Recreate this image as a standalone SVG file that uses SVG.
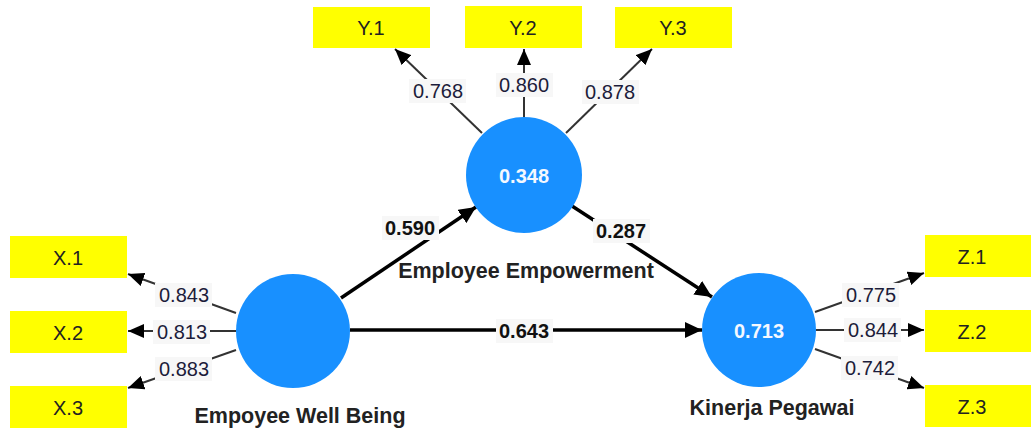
<svg xmlns="http://www.w3.org/2000/svg" width="1032" height="431" viewBox="0 0 1032 431">
<style>
.ind{fill:#ffff00}
.indt{font-family:"Liberation Sans",Arial,sans-serif;font-size:20px;fill:#222;text-anchor:middle;dominant-baseline:central}
.lv{fill:#1890ff}
.lvt{font-family:"Liberation Sans",Arial,sans-serif;font-size:20px;font-weight:bold;fill:#f4f8ff;text-anchor:middle;dominant-baseline:central}
.name{font-family:"Liberation Sans",Arial,sans-serif;font-size:21.5px;font-weight:bold;fill:#222;text-anchor:middle}
.ld{stroke:#333;stroke-width:2;fill:none;marker-end:url(#ah)}
.pth{stroke:#000;stroke-width:3.5;fill:none;marker-end:url(#ah2)}
.lbg{fill:#f7f7f7}
.lt{font-family:"Liberation Sans",Arial,sans-serif;font-size:20px;fill:#1c1c3a;text-anchor:middle;dominant-baseline:central}
.pt{font-family:"Liberation Sans",Arial,sans-serif;font-size:20px;font-weight:bold;fill:#111;text-anchor:middle;dominant-baseline:central}
</style>
<defs>
<marker id="ah" markerUnits="userSpaceOnUse" markerWidth="18" markerHeight="14" refX="16" refY="7" orient="auto"><path d="M0,0 L16,7 L0,14 z" fill="#000"/></marker>
<marker id="ah2" markerUnits="userSpaceOnUse" markerWidth="18" markerHeight="16" refX="17" refY="8" orient="auto"><path d="M0,0 L17,8 L0,16 z" fill="#000"/></marker>
</defs>
<rect width="1032" height="431" fill="#fff"/>
<g id="connectors">
<line class="ld" x1="482" y1="133" x2="395" y2="49"/>
<line class="ld" x1="524" y1="117" x2="524" y2="49"/>
<line class="ld" x1="566" y1="133" x2="652" y2="49"/>
<line class="ld" x1="236" y1="313" x2="128" y2="274"/>
<line class="ld" x1="236" y1="331" x2="128" y2="331"/>
<line class="ld" x1="236" y1="350" x2="128" y2="388"/>
<line class="ld" x1="815" y1="312" x2="924" y2="273"/>
<line class="ld" x1="816" y1="330" x2="924" y2="330"/>
<line class="ld" x1="815" y1="349" x2="924" y2="388"/>
<line class="pth" x1="341" y1="298" x2="476" y2="207"/>
<line class="pth" x1="572" y1="206" x2="712" y2="297"/>
<line class="pth" x1="350" y1="330" x2="702" y2="330"/>
<rect class="lbg" x="409" y="79" width="57" height="24"/><text class="lt" x="438" y="91">0.768</text>
<rect class="lbg" x="496" y="73" width="57" height="24"/><text class="lt" x="524" y="85">0.860</text>
<rect class="lbg" x="582" y="80" width="57" height="24"/><text class="lt" x="610" y="92">0.878</text>
<rect class="lbg" x="155" y="283" width="57" height="24"/><text class="lt" x="184" y="295">0.843</text>
<rect class="lbg" x="153" y="320" width="57" height="24"/><text class="lt" x="182" y="332">0.813</text>
<rect class="lbg" x="155" y="357" width="57" height="24"/><text class="lt" x="184" y="369">0.883</text>
<rect class="lbg" x="842" y="283" width="57" height="24"/><text class="lt" x="871" y="295">0.775</text>
<rect class="lbg" x="844" y="318" width="57" height="24"/><text class="lt" x="873" y="330">0.844</text>
<rect class="lbg" x="841" y="356" width="57" height="24"/><text class="lt" x="870" y="368">0.742</text>
<rect class="lbg" x="382" y="216" width="57" height="24"/><text class="pt" x="410" y="228">0.590</text>
<rect class="lbg" x="593" y="219" width="57" height="24"/><text class="pt" x="621" y="231">0.287</text>
<rect class="lbg" x="496" y="319" width="57" height="24"/><text class="pt" x="524" y="331">0.643</text>
</g>
<g id="Y1"><rect class="ind" x="313" y="7" width="117" height="41"/><text class="indt" x="371" y="28">Y.1</text></g>
<g id="Y2"><rect class="ind" x="465" y="6" width="117" height="42"/><text class="indt" x="523" y="28">Y.2</text></g>
<g id="Y3"><rect class="ind" x="615" y="7" width="117" height="41"/><text class="indt" x="673" y="28">Y.3</text></g>
<g id="X1"><rect class="ind" x="10" y="236" width="117" height="42"/><text class="indt" x="68" y="258">X.1</text></g>
<g id="X2"><rect class="ind" x="10" y="311" width="117" height="42"/><text class="indt" x="68" y="333">X.2</text></g>
<g id="X3"><rect class="ind" x="10" y="386" width="117" height="42"/><text class="indt" x="68" y="408">X.3</text></g>
<g id="Z1"><rect class="ind" x="925" y="235" width="106" height="42"/><text class="indt" x="972" y="257">Z.1</text></g>
<g id="Z2"><rect class="ind" x="925" y="310" width="106" height="42"/><text class="indt" x="972" y="332">Z.2</text></g>
<g id="Z3"><rect class="ind" x="925" y="385" width="106" height="42"/><text class="indt" x="972" y="407">Z.3</text></g>
<g id="EE"><circle class="lv" cx="524" cy="175" r="58"/><text class="lvt" x="524" y="176">0.348</text><text class="name" x="526" y="278">Employee Empowerment</text></g>
<g id="EWB"><circle class="lv" cx="293" cy="331" r="57"/><text class="name" x="300" y="423">Empoyee Well Being</text></g>
<g id="KP"><circle class="lv" cx="759" cy="330" r="57"/><text class="lvt" x="759" y="331">0.713</text><text class="name" x="772" y="415">Kinerja Pegawai</text></g>
</svg>
